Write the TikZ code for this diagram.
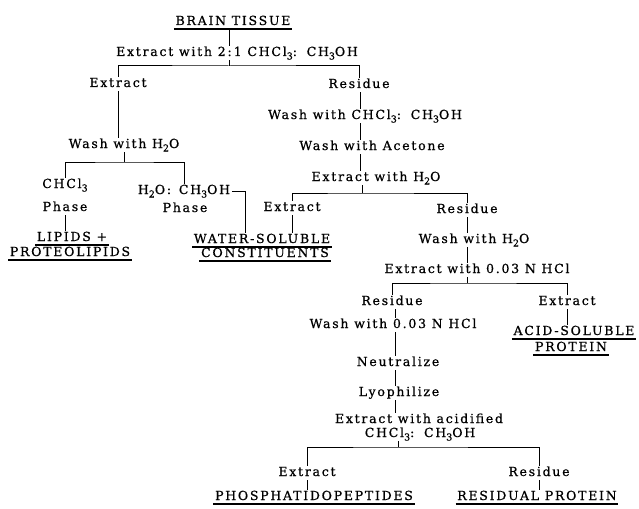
\documentclass[tikz,border=0pt]{standalone}
\usepackage{fontspec}
\setmainfont{DejaVu Serif}[LetterSpace=14,FakeBold=0.7]
\newcommand\sbs[1]{\raisebox{-3.5pt}{\fontsize{9.5}{9.5}\selectfont #1}}
\begin{document}
\begin{tikzpicture}[x=1pt,y=-1pt,
  every node/.style={font=\fontsize{12.5}{14}\selectfont, text height=8.5pt, text depth=2.5pt, inner sep=1.5pt},
  conn/.style={line width=1pt},
  uline/.style={line width=1.6pt},
  prod/.style={append after command={(\tikzlastnode.south west) edge[uline] (\tikzlastnode.south east)}}]
\useasboundingbox (0,0) rectangle (639,508);
% top
\node[prod] (bt) at (233,22) {BRAIN TISSUE};
\node (e0) at (237,53) {Extract with 2:\,1 CHCl\sbs{3}:\, CH\sbs{3}OH};
\coordinate (b1) at (229,66);
\node (ex1) at (118,84) {Extract};
\node (re1) at (359,85) {Residue};
\draw[conn] (bt.south -| b1) -- (e0.north -| b1);
\draw[conn] (e0.south -| b1) -- (b1);
\draw[conn] (ex1.north) |- (b1) -| (re1.north);
% left branch
\node (w1) at (124,145) {Wash with H\sbs{2}O};
\draw[conn] (ex1.south) -- (ex1.south |- w1.north);
\coordinate (b2) at (124,162);
\draw[conn] (w1.south -| b2) -- (b2);
\node (ch) at (65,185) {CHCl\sbs{3}};
\node (chp) at (65,208) {Phase};
\node (hp1) at (184,191) {H\sbs{2}O:\, CH\sbs{3}OH};
\node (hp2) at (185,209) {Phase};
\draw[conn] (ch.north) |- (b2) -| (hp1.north);
\node[prod] (lp) at (72,238) {LIPIDS +};
\node[prod] (pl) at (70,253) {PROTEOLIPIDS};
\draw[conn] (chp.south) -- (chp.south |- lp.north);
% right branch
\coordinate (cR) at (360,0);
\node (w2) at (365,116) {Wash with CHCl\sbs{3}:\, CH\sbs{3}OH};
\node (w3) at (372,147) {Wash with Acetone};
\node (e2) at (376,178) {Extract with H\sbs{2}O};
\draw[conn] (re1.south -| cR) -- (w2.north -| cR);
\draw[conn] (w2.south -| cR) -- (w3.north -| cR);
\draw[conn] (w3.south -| cR) -- (e2.north -| cR);
\coordinate (b3) at (362,193);
\draw[conn] (e2.south -| b3) -- (b3);
\node (ex2) at (292,208) {Extract};
\node (re2) at (467,210) {Residue};
\draw[conn] (ex2.north) |- (b3) -| (re2.north);
\node[prod] (ws1) at (262,240) {WATER-SOLUBLE};
\node[prod] (ws2) at (265,254) {CONSTITUENTS};
\draw[conn] (ex2.south) -- (ex2.south |- ws1.north);
\coordinate (j1) at (245,193);
\draw[conn] (hp1.east) -| (ws1.north -| j1);
% acid branch
\coordinate (cR2) at (467,0);
\node (w4) at (474,240) {Wash with H\sbs{2}O};
\node (e3) at (477,270) {Extract with 0.03 N HCl};
\draw[conn] (re2.south -| cR2) -- (w4.north -| cR2);
\draw[conn] (w4.south -| cR2) -- (e3.north -| cR2);
\coordinate (b4) at (467,283);
\draw[conn] (e3.south -| b4) -- (b4);
\node (re3) at (392,302) {Residue};
\node (ex3) at (567,302) {Extract};
\draw[conn] (re3.north) |- (b4) -| (ex3.north);
\node[prod] (as1) at (574,332) {ACID-SOLUBLE};
\node[prod] (as2) at (571,348) {PROTEIN};
\draw[conn] (ex3.south) -- (ex3.south |- as1.north);
\node (w5) at (393,325) {Wash with 0.03 N HCl};
\node (ne) at (398,363) {Neutralize};
\node (ly) at (399,393) {Lyophilize};
\node (ea1) at (419,420) {Extract with acidified};
\node (ea2) at (420,434) {CHCl\sbs{3}:\, CH\sbs{3}OH};
\coordinate (cL) at (395,0);
\draw[conn] (re3.south -| cL) -- (w5.north -| cL);
\draw[conn] (w5.south -| cL) -- (ne.north -| cL);
\draw[conn] (ne.south -| cL) -- (ly.north -| cL);
\draw[conn] (ly.south -| cL) -- (ea1.north -| cL);
\coordinate (b5) at (398,447);
\draw[conn] (ea2.south -| b5) -- (b5);
\node (ex4) at (307,473) {Extract};
\node (re4) at (539,473) {Residue};
\draw[conn] (ex4.north) |- (b5) -| (re4.north);
\node[prod] (ph) at (314,497) {PHOSPHATIDOPEPTIDES};
\node[prod] (rp) at (537,497) {RESIDUAL PROTEIN};
\draw[conn] (ex4.south) -- (ex4.south |- ph.north);
\draw[conn] (re4.south) -- (re4.south |- rp.north);
\end{tikzpicture}
\end{document}
